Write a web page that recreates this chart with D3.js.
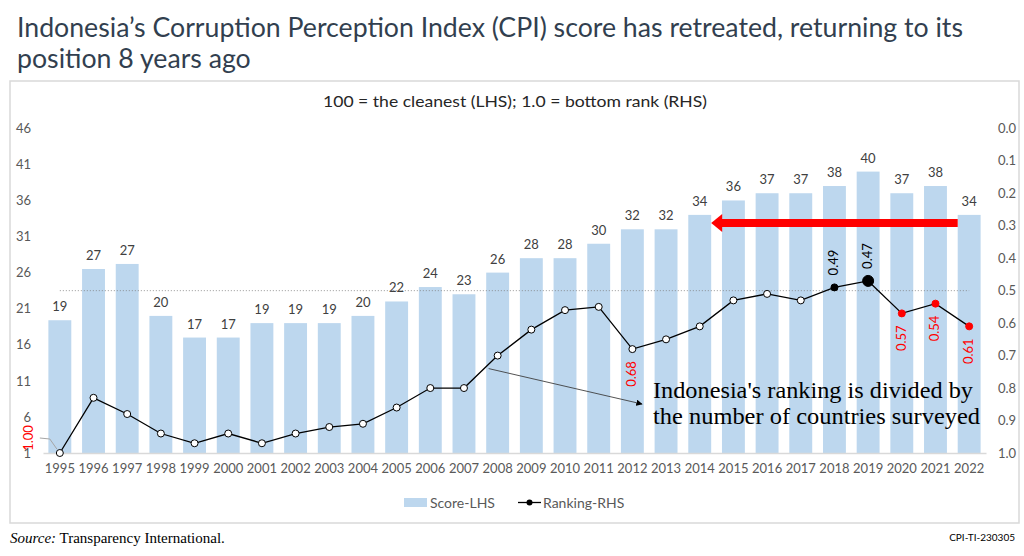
<!DOCTYPE html>
<html>
<head>
<meta charset="utf-8">
<script src="https://cdn.jsdelivr.net/npm/d3@7"></script>
<style>
  body { margin: 0; background: #fff; }
  svg { display: block; font-family: Lato, "Open Sans", sans-serif; }
</style>
</head>
<body>
<script>
const years = ['1995', '1996', '1997', '1998', '1999', '2000', '2001', '2002', '2003', '2004',
  '2005', '2006', '2007', '2008', '2009', '2010', '2011', '2012', '2013', '2014',
  '2015', '2016', '2017', '2018', '2019', '2020', '2021', '2022'];
// CPI score (LHS), bars
const scores = [19.4, 26.5, 27.2, 20, 17, 17, 19, 19, 19, 20, 22, 24, 23, 26, 28, 28,
  30, 32, 32, 34, 36, 37, 37, 38, 40, 37, 38, 34];
// rank / countries surveyed (RHS), line
const ranks = [1.00, 0.83, 0.88, 0.94, 0.97, 0.94, 0.97, 0.94, 0.92, 0.91, 0.86, 0.80, 0.80,
  0.70, 0.62, 0.56, 0.55, 0.68, 0.65, 0.61, 0.53, 0.51, 0.53, 0.49, 0.47, 0.57, 0.54, 0.61];
const leftTicks = [1, 6, 11, 16, 21, 26, 31, 36, 41, 46];
const rightTicks = [0, 0.1, 0.2, 0.3, 0.4, 0.5, 0.6, 0.7, 0.8, 0.9, 1.0];
const labelAbove = ['2018', '2019'];
const labelBelow = ['2012', '2020', '2021', '2022'];

const width = 1024;
const height = 556;
const gray = '#595959';

const svg = d3.select('body')
  .append('svg')
    .attr('width', width)
    .attr('height', height);

// title
const t1 = svg.append('text')
  .attr('x', 17).attr('y', 37)
  .attr('font-size', 27).attr('fill', '#323f4f')
  .text('Indonesia\u2019s Corruption Perception Index (CPI) score has retreated, returning to its');
const t2 = svg.append('text')
  .attr('x', 17).attr('y', 68)
  .attr('font-size', 27).attr('fill', '#323f4f')
  .text('position 8 years ago');
const ratio = 946 / t1.node().getComputedTextLength();
t1.attr('textLength', 946).attr('lengthAdjust', 'spacingAndGlyphs');
t2.attr('textLength', t2.node().getComputedTextLength() * ratio).attr('lengthAdjust', 'spacingAndGlyphs');

// frame
svg.append('rect')
  .attr('x', 10).attr('y', 81)
  .attr('width', 1009).attr('height', 442)
  .attr('fill', 'none')
  .attr('stroke', '#d9d9d9')
  .attr('stroke-width', 1.5);

svg.append('text')
  .attr('x', 515).attr('y', 107)
  .attr('text-anchor', 'middle')
  .attr('font-size', 16).attr('fill', '#262626')
  .attr('textLength', 384).attr('lengthAdjust', 'spacingAndGlyphs')
  .text('100 = the cleanest (LHS); 1.0 = bottom rank (RHS)');

const x = d3.scaleBand()
  .domain(years)
  .range([43, 986])
  .paddingInner(0.32)
  .paddingOuter(0.16);
const yL = d3.scaleLinear().domain([1, 46]).range([453, 128.3]);
const yR = d3.scaleLinear().domain([0, 1]).range([128.3, 453]);
const cx = d => x(d) + x.bandwidth() / 2;

// axes
const axL = svg.append('g')
  .attr('transform', 'translate(31,0)')
  .call(d3.axisLeft(yL).tickValues(leftTicks).tickSize(0).tickPadding(0));
const axR = svg.append('g')
  .attr('transform', 'translate(998,0)')
  .call(d3.axisRight(yR).tickValues(rightTicks).tickFormat(d3.format('.1f')).tickSize(0).tickPadding(0));
[axL, axR].forEach(a => {
  a.select('.domain').remove();
  a.selectAll('text').attr('fill', gray).attr('font-size', 13).attr('font-family', 'Lato, sans-serif');
});

// bars
svg.selectAll('rect.bar')
  .data(scores)
  .enter()
  .append('rect')
    .attr('class', 'bar')
    .attr('x', (d, i) => x(years[i]))
    .attr('y', d => yL(d))
    .attr('width', x.bandwidth())
    .attr('height', d => yL(1) - yL(d))
    .attr('fill', '#bdd7ee');

svg.selectAll('text.blabel')
  .data(scores)
  .enter()
  .append('text')
    .attr('class', 'blabel')
    .attr('x', (d, i) => cx(years[i]))
    .attr('y', d => yL(d) - 9)
    .attr('text-anchor', 'middle')
    .attr('font-size', 13)
    .attr('fill', '#404040')
    .text(d => Math.round(d));

const axB = svg.append('g')
  .attr('transform', `translate(0,${yL(1)})`)
  .call(d3.axisBottom(x).tickSize(0).tickPadding(11));
axB.select('.domain').attr('stroke', '#d9d9d9').attr('stroke-width', 1.5);
axB.selectAll('text').attr('fill', gray).attr('font-size', 13).attr('font-family', 'Lato, sans-serif');

// 0.5 reference line
svg.append('line')
  .attr('x1', cx(years[0])).attr('x2', cx(years[years.length - 1]))
  .attr('y1', yR(0.5)).attr('y2', yR(0.5))
  .attr('stroke', '#7f7f7f')
  .attr('stroke-width', 0.8)
  .attr('stroke-dasharray', '1,2');

// red arrow 2022 -> 2014
const arrowY = yL(34) + 8;
const tipX = x('2014') + x.bandwidth();
svg.append('line')
  .attr('x1', x('2022')).attr('x2', tipX + 10)
  .attr('y1', arrowY).attr('y2', arrowY)
  .attr('stroke', '#ff0000')
  .attr('stroke-width', 8);
svg.append('path')
  .attr('d', `M${tipX},${arrowY} L${tipX + 11},${arrowY - 9} L${tipX + 11},${arrowY + 9} Z`)
  .attr('fill', '#ff0000');

// ranking line
const line = d3.line()
  .x((d, i) => cx(years[i]))
  .y(d => yR(d));
svg.append('path')
  .datum(ranks)
  .attr('d', line)
  .attr('fill', 'none')
  .attr('stroke', '#000')
  .attr('stroke-width', 1.3);

const markerFill = y => (+y >= 2020 ? '#ff0000' : (+y >= 2018 ? '#000' : '#fff'));
const markerStroke = y => (+y >= 2020 ? '#ff0000' : '#000');
const markerR = y => (y === '2019' ? 5.5 : 3.5);

svg.selectAll('circle.pt')
  .data(ranks)
  .enter()
  .append('circle')
    .attr('class', 'pt')
    .attr('cx', (d, i) => cx(years[i]))
    .attr('cy', d => yR(d))
    .attr('r', (d, i) => markerR(years[i]))
    .attr('fill', (d, i) => markerFill(years[i]))
    .attr('stroke', (d, i) => markerStroke(years[i]))
    .attr('stroke-width', 1);

// rotated point labels
const rankLabel = (yr, above) => {
  const i = years.indexOf(yr);
  const px = cx(yr);
  const py = yR(ranks[i]) + (above ? -12 : 12);
  svg.append('text')
    .attr('transform', `translate(${px + 4},${py}) rotate(-90)`)
    .attr('text-anchor', above ? 'start' : 'end')
    .attr('font-size', 13)
    .attr('fill', above ? '#000' : '#ff0000')
    .text(ranks[i].toFixed(2));
};
labelAbove.forEach(y => rankLabel(y, true));
labelBelow.forEach(y => rankLabel(y, false));

// 1995 label with leader
const p0x = cx(years[0]);
const p0y = yR(ranks[0]);
svg.append('text')
  .attr('transform', `translate(${p0x - 27},${p0y - 15}) rotate(-90)`)
  .attr('text-anchor', 'middle')
  .attr('font-size', 13)
  .attr('fill', '#ff0000')
  .text(ranks[0].toFixed(2));
svg.append('path')
  .attr('d', `M${p0x - 20},${p0y - 15} L${p0x - 10},${p0y - 14} L${p0x - 3},${p0y - 4}`)
  .attr('fill', 'none')
  .attr('stroke', '#a6a6a6')
  .attr('stroke-width', 1);

// annotation with arrow
svg.append('defs').append('marker')
  .attr('id', 'ah')
  .attr('viewBox', '0 0 10 10')
  .attr('refX', 9).attr('refY', 5)
  .attr('markerWidth', 7).attr('markerHeight', 7)
  .attr('orient', 'auto')
  .append('path')
    .attr('d', 'M0,0 L10,5 L0,10 Z')
    .attr('fill', '#000');
svg.append('line')
  .attr('x1', cx('2008') - 9).attr('y1', yR(ranks[13]) + 13)
  .attr('x2', 642).attr('y2', 404)
  .attr('stroke', '#404040')
  .attr('stroke-width', 0.9)
  .attr('marker-end', 'url(#ah)');

const note = svg.append('g')
  .attr('font-family', '"Liberation Serif", "Times New Roman", serif')
  .attr('font-size', 24)
  .attr('fill', '#000');
note.append('text')
  .attr('x', 653).attr('y', 398)
  .attr('textLength', 320).attr('lengthAdjust', 'spacingAndGlyphs')
  .text("Indonesia's ranking is divided by");
note.append('text')
  .attr('x', 653).attr('y', 424)
  .attr('textLength', 327).attr('lengthAdjust', 'spacingAndGlyphs')
  .text('the number of countries surveyed');

// legend
const lg = svg.append('g').attr('font-size', 14).attr('fill', gray);
lg.append('rect')
  .attr('x', 404).attr('y', 498)
  .attr('width', 23).attr('height', 9)
  .attr('fill', '#bdd7ee');
lg.append('text').attr('x', 430).attr('y', 507.5).text('Score-LHS');
lg.append('line')
  .attr('x1', 518).attr('x2', 541)
  .attr('y1', 502.5).attr('y2', 502.5)
  .attr('stroke', '#000').attr('stroke-width', 1.3);
lg.append('circle')
  .attr('cx', 529.5).attr('cy', 502.5).attr('r', 3)
  .attr('fill', '#000');
lg.append('text').attr('x', 543).attr('y', 507.5).text('Ranking-RHS');

// footer
const src = svg.append('text')
  .attr('x', 10).attr('y', 543)
  .attr('font-family', '"Liberation Serif", "Times New Roman", serif')
  .attr('font-size', 15)
  .attr('fill', '#000');
src.append('tspan').attr('font-style', 'italic').text('Source:');
src.append('tspan').text(' Transparency International.');

svg.append('text')
  .attr('x', 1015).attr('y', 541)
  .attr('text-anchor', 'end')
  .attr('font-size', 10)
  .attr('fill', '#000')
  .text('CPI-TI-230305');
</script>
</body>
</html>
